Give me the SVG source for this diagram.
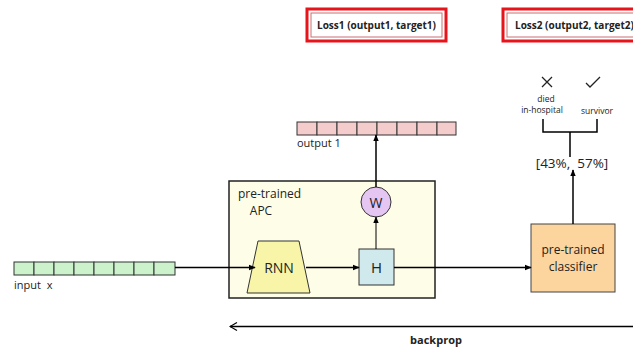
<svg xmlns="http://www.w3.org/2000/svg" width="633" height="350" viewBox="0 0 633 350">
<defs>
<marker id="ah" viewBox="0 0 10 10" refX="9" refY="5" markerWidth="7" markerHeight="7" orient="auto-start-reverse" markerUnits="userSpaceOnUse"><path d="M0,1 L10,5 L0,9 Z" fill="#000"/></marker>
<marker id="open" viewBox="0 0 10 10" refX="9" refY="5" markerWidth="10" markerHeight="10" orient="auto" markerUnits="userSpaceOnUse"><path d="M2,1 L9,5 L2,9" fill="none" stroke="#000" stroke-width="1.2"/></marker>
</defs>
<style>
text{font-family:"Open Sans","DejaVu Sans",sans-serif;fill:#222}
.loss{font-size:10px;font-weight:bold}
.lo{fill:#fff;stroke:#e8141c;stroke-width:3}
.li{fill:none;stroke:#c47070;stroke-width:1}
.cell{stroke:#333;stroke-width:1}
.ln{stroke:#000;stroke-width:1.5;fill:none}
.sm{font-size:8.5px}
</style>
<rect width="633" height="350" fill="#fff"/>
<g id="loss1">
<rect class="lo" x="307" y="9" width="139" height="32"/>
<rect class="li" x="311" y="13" width="131" height="24"/>
<text class="loss" x="376.5" y="29" text-anchor="middle">Loss1 (output1, target1)</text>
</g>
<g id="loss2">
<rect class="lo" x="503" y="9" width="140" height="32"/>
<rect class="li" x="507" y="13" width="131" height="24"/>
<text class="loss" x="515" y="29">Loss2 (output2, target2)</text>
</g>
<g id="output1">
<g fill="#f4cccc" class="cell">
<rect x="297" y="122" width="20" height="13"/><rect x="317" y="122" width="20" height="13"/><rect x="337" y="122" width="20" height="13"/><rect x="357" y="122" width="20" height="13"/><rect x="377" y="122" width="20" height="13"/><rect x="397" y="122" width="20" height="13"/><rect x="417" y="122" width="20" height="13"/><rect x="437" y="122" width="19" height="13"/>
</g>
<text x="297" y="147" font-size="11">output 1</text>
</g>
<g id="outcomes">
<path d="M542,77 L552,87 M552,77 L542,87" stroke="#222" stroke-width="1.3"/>
<path d="M586,83 L590,87 L600,77" stroke="#222" stroke-width="1.3" fill="none"/>
<text class="sm" x="546" y="101.5" text-anchor="middle">died</text>
<text class="sm" x="542" y="113" text-anchor="middle">in-hospital</text>
<text class="sm" x="597" y="114" text-anchor="middle">survivor</text>
<path d="M543,119 V132 H597 V119 M570,132 V157" class="ln"/>
<text x="572" y="168" font-size="13.5" text-anchor="middle" xml:space="preserve">[43%,  57%]</text>
</g>
<g id="apc">
<rect x="229" y="181" width="206" height="117" fill="#fefde8" stroke="#222" stroke-width="1.5"/>
<text x="238" y="198" font-size="12">pre-trained</text>
<text x="261" y="214.5" font-size="12" text-anchor="middle">APC</text>
</g>
<g id="rnn">
<path d="M258,241 L299,241 L310,293 L247,293 Z" fill="#f8f5a9" stroke="#333" stroke-width="1"/>
<text x="279" y="273" font-size="14" text-anchor="middle">RNN</text>
</g>
<g id="h">
<rect x="359" y="249" width="35" height="36" fill="#d0e9ec" stroke="#333" stroke-width="1"/>
<text x="376.5" y="273" font-size="15" text-anchor="middle">H</text>
</g>
<g id="w">
<circle cx="376" cy="202" r="15" fill="#e5c5f2" stroke="#333" stroke-width="1"/>
<text x="376" y="207.5" font-size="14" text-anchor="middle">W</text>
</g>
<g id="input">
<g fill="#ccf2cc" class="cell">
<rect x="14" y="262" width="20" height="13"/><rect x="34" y="262" width="20" height="13"/><rect x="54" y="262" width="20" height="13"/><rect x="74" y="262" width="20" height="13"/><rect x="94" y="262" width="20" height="13"/><rect x="114" y="262" width="20" height="13"/><rect x="134" y="262" width="20" height="13"/><rect x="154" y="262" width="21" height="13"/>
</g>
<text x="14" y="289" font-size="11" xml:space="preserve">input  x</text>
</g>
<g id="classifier">
<rect x="531" y="224" width="84" height="68" fill="#fcd49e" stroke="#444" stroke-width="1"/>
<text x="573" y="254" font-size="12" text-anchor="middle">pre-trained</text>
<text x="573" y="270.5" font-size="12" text-anchor="middle">classifier</text>
</g>
<g id="connectors">
<path class="ln" d="M175,267.5 H255" marker-end="url(#ah)"/>
<path class="ln" d="M306,267.5 H359" marker-end="url(#ah)"/>
<path d="M376,249 V217" stroke="#000" stroke-width="1" marker-end="url(#ah)"/>
<path class="ln" d="M376,187 V135" marker-end="url(#ah)"/>
<path class="ln" d="M394,267.5 H531" marker-end="url(#ah)"/>
<path class="ln" d="M573,224 V170" marker-end="url(#ah)"/>
<path class="ln" d="M633,326.5 H230" marker-end="url(#open)"/>
<text x="436" y="344" font-size="11" font-weight="bold" text-anchor="middle">backprop</text>
</g>
</svg>
